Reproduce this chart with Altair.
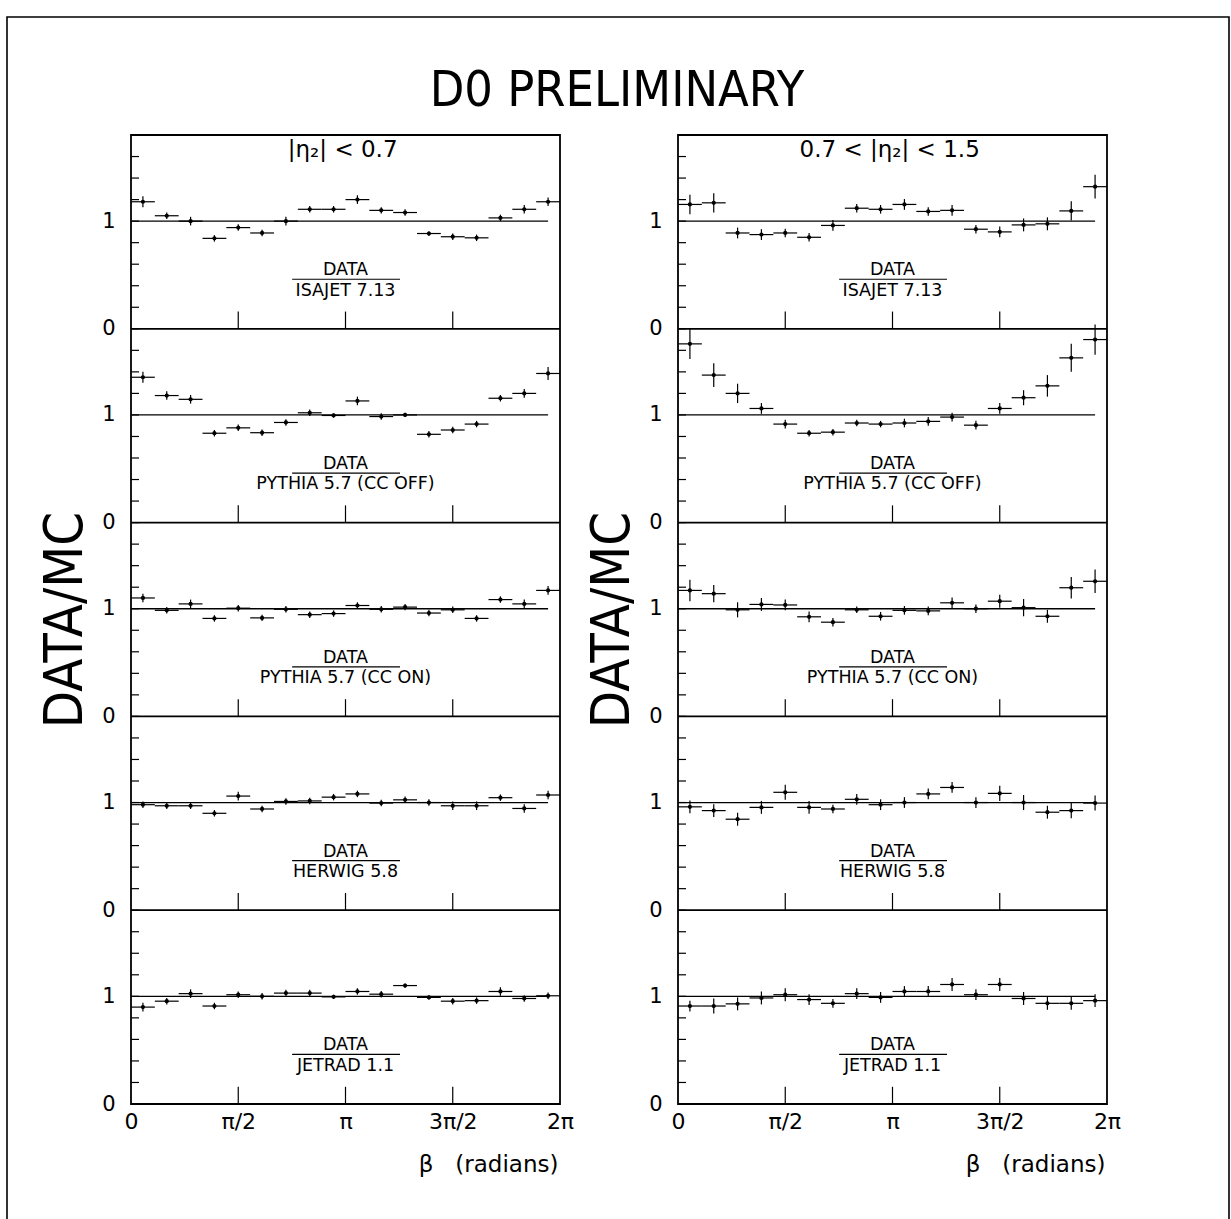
import altair as alt
import pandas as pd
import numpy as np

# ---------------- data ----------------
NBINS = 18
TWO_PI = 2 * np.pi
MODELS = ["ISAJET 7.13", "PYTHIA 5.7 (CC OFF)", "PYTHIA 5.7 (CC ON)", "HERWIG 5.8", "JETRAD 1.1"]
ETA_LABELS = ["|η₂| < 0.7", "0.7 < |η₂| < 1.5"]
X_TICK_LABELS = ["0", "π/2", "π", "3π/2", "2π"]

# left column: |eta2| < 0.7
L_ISAJET = [1.18, 1.05, 1.00, 0.84, 0.94, 0.89, 1.00, 1.11, 1.11, 1.20, 1.10, 1.08, 0.885, 0.855, 0.845, 1.03, 1.11, 1.18]
L_ISAJET_ERR = [0.05, 0.03, 0.04, 0.03, 0.03, 0.03, 0.04, 0.03, 0.03, 0.04, 0.03, 0.03, 0.02, 0.03, 0.03, 0.03, 0.04, 0.04]
L_PYOFF = [1.35, 1.18, 1.145, 0.83, 0.88, 0.835, 0.93, 1.02, 0.995, 1.13, 0.985, 1.0, 0.82, 0.86, 0.915, 1.155, 1.20, 1.385]
L_PYOFF_ERR = [0.05, 0.04, 0.04, 0.03, 0.03, 0.03, 0.03, 0.03, 0.02, 0.04, 0.03, 0.02, 0.03, 0.03, 0.03, 0.03, 0.04, 0.06]
L_PYON = [1.10, 0.985, 1.045, 0.91, 1.005, 0.915, 0.995, 0.945, 0.955, 1.03, 0.995, 1.015, 0.96, 0.99, 0.91, 1.085, 1.045, 1.17]
L_PYON_ERR = [0.04, 0.03, 0.04, 0.03, 0.03, 0.03, 0.03, 0.03, 0.03, 0.03, 0.03, 0.03, 0.03, 0.03, 0.03, 0.03, 0.04, 0.04]
L_HERWIG = [0.98, 0.97, 0.97, 0.90, 1.06, 0.94, 1.01, 1.015, 1.05, 1.08, 0.995, 1.025, 1.0, 0.97, 0.97, 1.045, 0.945, 1.07]
L_HERWIG_ERR = [0.03, 0.03, 0.03, 0.03, 0.04, 0.03, 0.03, 0.03, 0.03, 0.03, 0.03, 0.03, 0.03, 0.04, 0.04, 0.03, 0.04, 0.04]
L_JETRAD = [0.90, 0.955, 1.025, 0.91, 1.015, 1.0, 1.03, 1.03, 0.995, 1.045, 1.02, 1.10, 0.99, 0.955, 0.96, 1.045, 0.98, 1.005]
L_JETRAD_ERR = [0.04, 0.03, 0.04, 0.03, 0.03, 0.03, 0.03, 0.03, 0.02, 0.03, 0.03, 0.02, 0.02, 0.03, 0.03, 0.04, 0.03, 0.03]

# right column: 0.7 < |eta2| < 1.5
R_ISAJET = [1.155, 1.17, 0.89, 0.875, 0.89, 0.85, 0.96, 1.12, 1.11, 1.155, 1.09, 1.10, 0.925, 0.90, 0.965, 0.975, 1.095, 1.32]
R_ISAJET_ERR = [0.09, 0.09, 0.05, 0.05, 0.04, 0.04, 0.05, 0.04, 0.04, 0.05, 0.04, 0.05, 0.04, 0.05, 0.06, 0.06, 0.09, 0.11]
R_PYOFF = [1.66, 1.37, 1.20, 1.06, 0.915, 0.83, 0.84, 0.925, 0.915, 0.925, 0.94, 0.98, 0.905, 1.06, 1.16, 1.27, 1.53, 1.70]
R_PYOFF_ERR = [0.14, 0.11, 0.09, 0.05, 0.04, 0.03, 0.03, 0.03, 0.03, 0.04, 0.04, 0.04, 0.04, 0.05, 0.07, 0.10, 0.13, 0.14]
R_PYON = [1.17, 1.14, 0.99, 1.04, 1.035, 0.925, 0.875, 0.99, 0.93, 0.985, 0.98, 1.055, 1.0, 1.07, 1.01, 0.93, 1.195, 1.255]
R_PYON_ERR = [0.10, 0.08, 0.07, 0.06, 0.05, 0.05, 0.04, 0.03, 0.04, 0.04, 0.04, 0.05, 0.04, 0.06, 0.08, 0.06, 0.10, 0.11]
R_HERWIG = [0.96, 0.925, 0.845, 0.955, 1.095, 0.955, 0.94, 1.03, 0.98, 1.0, 1.08, 1.14, 1.0, 1.085, 1.0, 0.91, 0.925, 0.995]
R_HERWIG_ERR = [0.06, 0.06, 0.06, 0.06, 0.07, 0.06, 0.04, 0.05, 0.05, 0.05, 0.05, 0.05, 0.05, 0.07, 0.07, 0.06, 0.07, 0.07]
R_JETRAD = [0.91, 0.91, 0.93, 0.985, 1.015, 0.97, 0.935, 1.025, 0.99, 1.045, 1.045, 1.11, 1.015, 1.11, 0.98, 0.935, 0.935, 0.96]
R_JETRAD_ERR = [0.05, 0.07, 0.06, 0.06, 0.06, 0.05, 0.04, 0.05, 0.05, 0.05, 0.05, 0.06, 0.05, 0.06, 0.06, 0.06, 0.06, 0.06]

LEFT_VALS = [L_ISAJET, L_PYOFF, L_PYON, L_HERWIG, L_JETRAD]
LEFT_ERRS = [L_ISAJET_ERR, L_PYOFF_ERR, L_PYON_ERR, L_HERWIG_ERR, L_JETRAD_ERR]
RIGHT_VALS = [R_ISAJET, R_PYOFF, R_PYON, R_HERWIG, R_JETRAD]
RIGHT_ERRS = [R_ISAJET_ERR, R_PYOFF_ERR, R_PYON_ERR, R_HERWIG_ERR, R_JETRAD_ERR]

# ---------------- layout constants ----------------
NPAN = 5
PANEL_H = 1.8
BIN_W = TWO_PI / NBINS
W, H = 429, 969
FONT = "DejaVu Sans"
NARROW = "Liberation Sans Narrow, DejaVu Sans Condensed, Liberation Sans"

X_TICKS = [0, np.pi / 2, np.pi, 1.5 * np.pi, TWO_PI]
Y_LABEL_VALUES = [PANEL_H * k + j for k in range(NPAN) for j in (0.0, 1.0)]
Y_MINOR = [round(0.2 * k, 2) for k in range(1, int(PANEL_H * NPAN / 0.2))]
OFFSETS = [PANEL_H * (NPAN - 1 - p) for p in range(NPAN)]

xscale = alt.Scale(domain=[0, TWO_PI], nice=False, zero=False)
yscale = alt.Scale(domain=[0, PANEL_H * NPAN], nice=False, zero=False)


def column_df(values_list, errs_list):
    rows = []
    for p, (vals, errs) in enumerate(zip(values_list, errs_list)):
        off = OFFSETS[p]
        for i, (v, e) in enumerate(zip(vals, errs)):
            rows.append(dict(panel=p, xlo=i * BIN_W, xhi=(i + 1) * BIN_W, xc=(i + 0.5) * BIN_W,
                             y=v + off, ylo=v - e + off, yhi=v + e + off))
    return pd.DataFrame(rows)


def column(values_list, errs_list, eta_text, decorate):
    df = column_df(values_list, errs_list)

    x_axis = alt.Axis(values=X_TICKS,
                      labelExpr="['0','π/2','π','3π/2','2π'][round(datum.value*2/PI)]",
                      ticks=False, domain=False, grid=False, labelFlush=False, labelOverlap=False,
                      labelFont=FONT, labelFontSize=22, labelPadding=7, labelColor="black",
                      title="β\u00a0\u00a0\u00a0(radians)", titleFont=FONT, titleFontSize=23,
                      titleFontWeight="normal",
                      titleColor="black", titleX=W - 2, titleY=60, titleAlign="right", titleAnchor="end",
                      titleBaseline="middle")
    y_axis = alt.Axis(values=Y_LABEL_VALUES,
                      labelExpr="(round(datum.value*5) % 9 == 0) ? '0' : '1'",
                      ticks=False, domain=False, grid=False, labelFlush=False, labelOverlap=False,
                      labelFont=FONT, labelFontSize=21, labelPadding=16, labelColor="black",
                      title="DATA/MC", titleFont=NARROW, titleFontSize=54, titleFontWeight="normal",
                      titleColor="black", titleX=-66, titleY=H / 2, titleAlign="center",
                      titleBaseline="middle", titleAngle=270)

    base = alt.Chart(df)
    hbar = base.mark_rule(color="black", strokeWidth=1.2).encode(
        x=alt.X("xlo:Q", scale=xscale, axis=x_axis), x2="xhi:Q",
        y=alt.Y("y:Q", scale=yscale, axis=y_axis))
    vbar = base.mark_rule(color="black", strokeWidth=1.2).encode(
        x=alt.X("xc:Q", scale=xscale), y=alt.Y("ylo:Q", scale=yscale), y2="yhi:Q")
    dots = base.mark_circle(color="black", size=18, opacity=1).encode(
        x=alt.X("xc:Q", scale=xscale), y=alt.Y("y:Q", scale=yscale))

    ref_df = pd.DataFrame({"x0": [0.0] * NPAN, "x1": [(NBINS - 0.5) * BIN_W] * NPAN,
                           "y": [o + 1.0 for o in OFFSETS]})
    ref = alt.Chart(ref_df).mark_rule(color="black", strokeWidth=1.3).encode(
        x=alt.X("x0:Q", scale=xscale), x2="x1:Q", y=alt.Y("y:Q", scale=yscale))

    sep_df = pd.DataFrame({"x0": [0.0] * (NPAN - 1), "x1": [TWO_PI] * (NPAN - 1), "y": OFFSETS[:-1]})
    sep = alt.Chart(sep_df).mark_rule(color="black", strokeWidth=1.8).encode(
        x=alt.X("x0:Q", scale=xscale), x2="x1:Q", y=alt.Y("y:Q", scale=yscale))

    xt_rows = [dict(x=xv, y0=o, y1=o + 0.16) for o in OFFSETS for xv in X_TICKS[1:4]]
    xt = alt.Chart(pd.DataFrame(xt_rows)).mark_rule(color="black", strokeWidth=1.2).encode(
        x=alt.X("x:Q", scale=xscale), y=alt.Y("y0:Q", scale=yscale), y2="y1:Q")

    yt = alt.Chart(pd.DataFrame({"y": Y_MINOR})).mark_rule(color="black", strokeWidth=1.2).encode(
        x=alt.value(0), x2=alt.value(8), y=alt.Y("y:Q", scale=yscale))

    num_df = pd.DataFrame({"x": [np.pi * 1.0] * NPAN, "y": [o + 0.545 for o in OFFSETS],
                           "t": ["DATA"] * NPAN})
    den_df = pd.DataFrame({"x": [np.pi * 1.0] * NPAN, "y": [o + 0.355 for o in OFFSETS], "t": MODELS})
    fl_df = pd.DataFrame({"x0": [2.36] * NPAN, "x1": [3.94] * NPAN, "y": [o + 0.46 for o in OFFSETS]})
    num = alt.Chart(num_df).mark_text(font=FONT, fontSize=17.5, color="black", baseline="middle",
                                      align="center").encode(
        x=alt.X("x:Q", scale=xscale), y=alt.Y("y:Q", scale=yscale), text="t:N")
    den = alt.Chart(den_df).mark_text(font=FONT, fontSize=17.5, color="black", baseline="middle",
                                      align="center").encode(
        x=alt.X("x:Q", scale=xscale), y=alt.Y("y:Q", scale=yscale), text="t:N")
    fl = alt.Chart(fl_df).mark_rule(color="black", strokeWidth=1.2).encode(
        x=alt.X("x0:Q", scale=xscale), x2="x1:Q", y=alt.Y("y:Q", scale=yscale))

    eta_df = pd.DataFrame({"x": [3.1], "y": [OFFSETS[0] + 1.66], "t": [eta_text]})
    eta = alt.Chart(eta_df).mark_text(font=FONT, fontSize=23, color="black", baseline="middle",
                                      align="center").encode(
        x=alt.X("x:Q", scale=xscale), y=alt.Y("y:Q", scale=yscale), text="t:N")

    layers = [sep, ref, hbar, vbar, dots, xt, yt, num, den, fl, eta]

    if decorate:
        frame = alt.Chart(pd.DataFrame({"k": [0]})).mark_rect(
            fill=None, filled=False, stroke="black", strokeWidth=1.6).encode(
            x=alt.value(-124), x2=alt.value(1098), y=alt.value(-118), y2=alt.value(1140))
        title = alt.Chart(pd.DataFrame({"t": ["D0 PRELIMINARY"]})).mark_text(
            font=NARROW, fontSize=50, color="black", align="center", baseline="middle").encode(
            x=alt.value(486), y=alt.value(-44), text="t:N")
        layers = [frame, title] + layers

    return alt.layer(*layers).properties(width=W, height=H)


left = column(LEFT_VALS, LEFT_ERRS, ETA_LABELS[0], True)
right = column(RIGHT_VALS, RIGHT_ERRS, ETA_LABELS[1], False)

chart = alt.hconcat(left, right, spacing=118, bounds="flush").properties(
    padding={"left": 5, "top": 15, "right": 0, "bottom": 0},
    background="white"
).configure_view(stroke="black", strokeWidth=1.8)

chart.save("out.html", embed_options={"renderer": "svg", "actions": False})
